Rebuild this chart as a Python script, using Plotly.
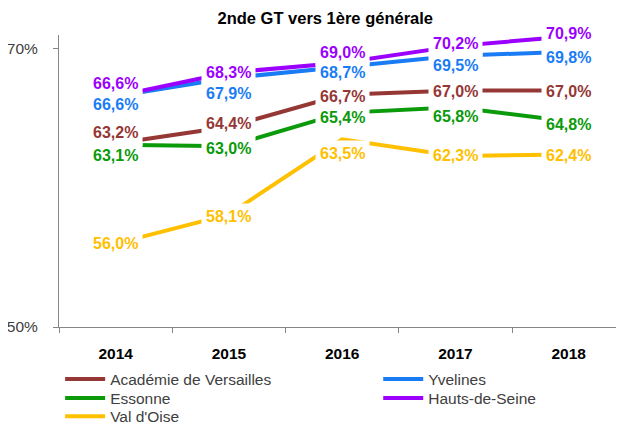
import plotly.graph_objects as go

years = ["2014", "2015", "2016", "2017", "2018"]
versailles = [63.2, 64.4, 66.7, 67.0, 67.0]
yvelines = [66.6, 67.9, 68.7, 69.5, 69.8]
essonne = [63.1, 63.0, 65.4, 65.8, 64.8]
hauts_de_seine = [66.6, 68.3, 69.0, 70.2, 70.9]
val_doise = [56.0, 58.1, 63.5, 62.3, 62.4]
y_ticks = [50, 70]
y_tick_labels = ["50%", "70%"]

# name, values, colour, label pixel offset, legend slot (column, row)
series = [
    ("Académie de Versailles", versailles, "#953735", [11, 3, -2, -1, -1], (0, 0)),
    ("Yvelines", yvelines, "#1A7CF5", [-8, -15, -6, -10, -6], (1, 0)),
    ("Essonne", essonne, "#0A9A0A", [-11, -2, -5, -9, -3], (0, 1)),
    ("Hauts-de-Seine", hauts_de_seine, "#9B00FF", [13, 0, 10, 3, 3], (1, 1)),
    ("Val d'Oise", val_doise, "#FFC000", [0, -2, -14, 0, -1], (0, 2)),
]

FONT = "Liberation Sans, Arial, sans-serif"
xpos = list(range(len(years)))
boundaries = [i - 0.5 for i in range(len(years) + 1)]

W, H = 616, 417
col_x = [0.002, 0.565]
row_y = [-0.121, -0.186, -0.249]

fig = go.Figure()
legends = {}
for k, (name, vals, color, shifts, (c, r)) in enumerate(series):
    leg = "legend" if k == 0 else f"legend{k + 1}"
    fig.add_trace(go.Scatter(
        x=xpos, y=vals, name=name, mode="lines",
        line=dict(color=color, width=4), legend=leg,
    ))
    legends[leg] = dict(
        orientation="v", x=col_x[c], xanchor="left", y=row_y[r], yanchor="top",
        font=dict(family=FONT, size=15.5, color="#404040"),
        bgcolor="rgba(0,0,0,0)", itemwidth=40,
    )

for name, vals, color, shifts, _ in series:
    for xi, v, s in zip(xpos, vals, shifts):
        fig.add_annotation(
            x=xi, y=v,
            text="<b>" + f"{v:.1f}".replace(".", ",") + "%</b>",
            showarrow=False, yshift=s,
            font=dict(family=FONT, size=16, color=color),
            bgcolor="white", borderpad=4,
        )

fig.update_layout(
    width=W, height=H,
    margin=dict(l=51, r=0, t=27, b=98, autoexpand=False),
    paper_bgcolor="white", plot_bgcolor="white",
    font=dict(family=FONT),
    title=dict(
        text="<b>2nde GT vers 1ère générale</b>",
        x=0.515, xanchor="center", xref="container",
        y=1 - 10 / H, yanchor="middle", yref="container",
        font=dict(family=FONT, size=16.5, color="black"),
    ),
    xaxis=dict(
        range=[-0.5, 4.489],
        tickmode="array", tickvals=xpos,
        ticktext=["<b>" + y + "</b>" for y in years],
        ticks="", showline=True, linecolor="#868686", linewidth=1,
        showgrid=False, zeroline=False, ticklabelstandoff=12,
        tickfont=dict(family=FONT, size=15.5, color="black"),
        minor=dict(tickmode="array", tickvals=boundaries, ticks="outside",
                   ticklen=5, tickcolor="#868686", showgrid=False),
    ),
    yaxis=dict(
        range=[50, 71], tickmode="array", tickvals=y_ticks, ticktext=y_tick_labels,
        ticks="outside", ticklen=5, tickcolor="#868686",
        linecolor="#868686", linewidth=1, showline=True,
        showgrid=False, zeroline=False, ticklabelstandoff=12,
        tickfont=dict(family=FONT, size=15.5, color="#404040"),
    ),
    showlegend=True,
    **legends,
)

fig.write_html("out.html")
